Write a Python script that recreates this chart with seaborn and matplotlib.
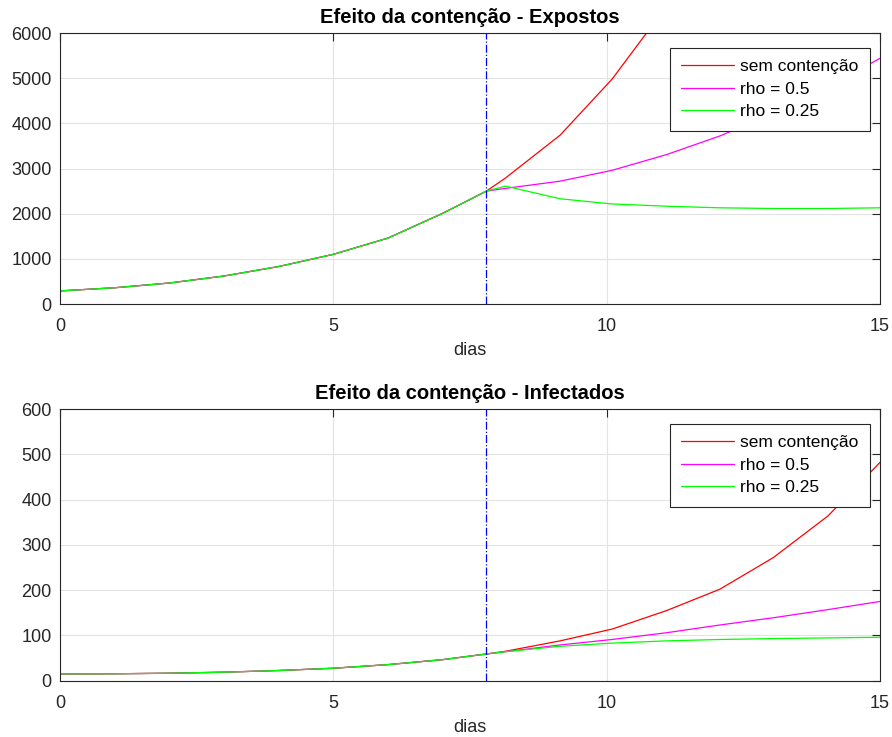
import pandas as pd
import numpy as np
import matplotlib
matplotlib.use("Agg")
import matplotlib.pyplot as plt
import seaborn as sns

# dias (malha de tempo) e instante da contenção
dias = [0, 1, 2, 3, 4, 5, 6, 7, 7.8, 8.15, 9.15, 10.1, 11.1, 12.07, 13.05, 14.05, 15]
t_contencao = 7.8

# Expostos
exp_sem = [290, 360, 465, 620, 830, 1100, 1460, 2008, 2500, 2790, 3740, 4980, 6600, 8700, 11500, 15200, 20000]
exp_rho05 = [290, 360, 465, 620, 830, 1100, 1460, 2008, 2500, 2560, 2720, 2960, 3310, 3720, 4220, 4800, 5440]
exp_rho025 = [290, 360, 465, 620, 830, 1100, 1460, 2008, 2500, 2610, 2330, 2215, 2165, 2130, 2115, 2115, 2130]

# Infectados
inf_sem = [15, 15.3, 16.5, 18.8, 22.5, 27.5, 35.5, 46.5, 59, 65, 88, 114, 155, 202, 272, 364, 482]
inf_rho05 = [15, 15.3, 16.5, 18.8, 22.5, 27.5, 35.5, 46.5, 59, 64, 79, 91, 106, 123, 139, 157, 175]
inf_rho025 = [15, 15.3, 16.5, 18.8, 22.5, 27.5, 35.5, 46.5, 59, 64, 76, 83, 88, 91, 93, 94.5, 96]

nomes = ["sem contenção", "rho = 0.5", "rho = 0.25"]
cores = {"sem contenção": "#FF0000", "rho = 0.5": "#FF00FF", "rho = 0.25": "#00FF00"}


def monta(series):
    partes = []
    for nome, vals in zip(nomes, series):
        partes.append(pd.DataFrame({"dias": dias, "valor": vals, "caso": nome}))
    return pd.concat(partes, ignore_index=True)


df_exp = monta([exp_sem, exp_rho05, exp_rho025])
df_inf = monta([inf_sem, inf_rho05, inf_rho025])

sns.set_style("white")
plt.rcParams['font.family'] = ['Liberation Sans', 'DejaVu Sans']

fig = plt.figure(figsize=(8.92, 7.37), dpi=100)
ax1 = fig.add_axes([0.0673, 0.5875, 0.9192, 0.3677])
ax2 = fig.add_axes([0.0673, 0.0764, 0.9192, 0.3686])

configs = [
    (ax1, df_exp, "Efeito da contenção - Expostos", 6000, 1000),
    (ax2, df_inf, "Efeito da contenção - Infectados", 600, 100),
]

for ax, df, titulo, ymax, passo in configs:
    sns.lineplot(data=df, x="dias", y="valor", hue="caso", hue_order=nomes,
                 palette=cores, linewidth=0.9, ax=ax, estimator=None, sort=False)
    ax.axvline(t_contencao, color="#0000FF", linestyle="-.", linewidth=0.9)
    ax.set_xlim(0, 15)
    ax.set_ylim(0, ymax)
    ax.set_xticks([0, 5, 10, 15])
    ax.set_yticks(np.arange(0, ymax + 1, passo))
    ax.grid(True, color="#E3E3E3", linewidth=0.8)
    ax.set_axisbelow(True)
    for s in ax.spines.values():
        s.set_color("#262626")
        s.set_linewidth(0.8)
        s.set_visible(True)
    ax.tick_params(direction="in", length=5.5, width=0.8, top=True, right=True,
                   labelsize=13, colors="#262626", pad=6)
    ax.tick_params(axis="x", pad=10)
    ax.set_xlabel("dias", fontsize=13, color="#262626", labelpad=5)
    ax.set_ylabel("")
    ax.set_title(titulo, fontsize=14.5, fontweight="bold", pad=7, color="black")
    leg = ax.legend(loc="upper right", bbox_to_anchor=(0.988, 0.945), fontsize=12.5,
                    frameon=True, fancybox=False, framealpha=1, edgecolor="#262626",
                    handlelength=3.0, handletextpad=0.4, borderpad=0.65,
                    labelspacing=0.42, borderaxespad=0)
    leg.get_frame().set_linewidth(0.8)
    for txt in leg.get_texts():
        txt.set_color("black")

plt.savefig("out.png", dpi=100)
